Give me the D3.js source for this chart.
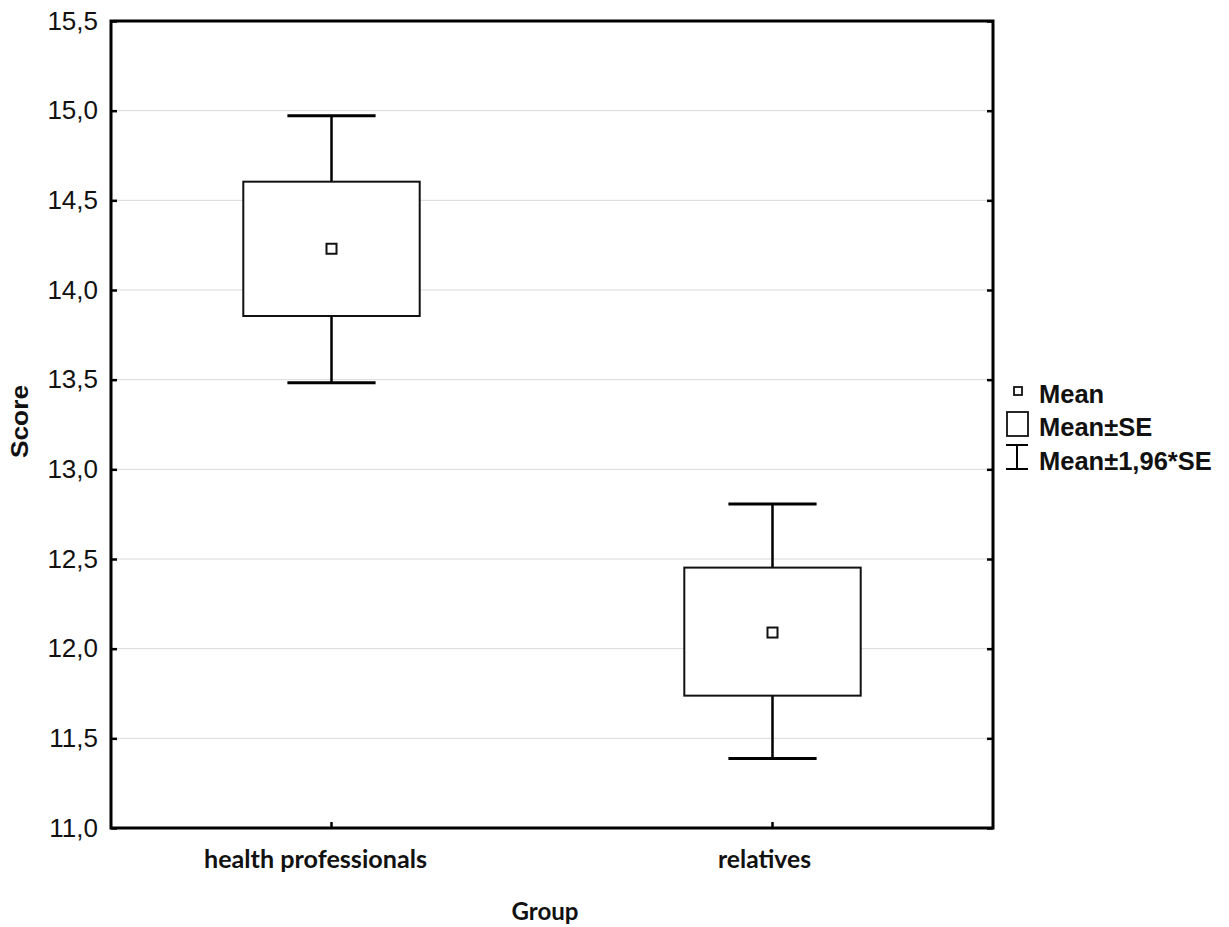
<!DOCTYPE html>
<html>
<head>
<meta charset="utf-8">
<script src="https://cdn.jsdelivr.net/npm/d3@7"></script>
<style>
  html, body { margin: 0; padding: 0; background: #fff; }
  svg { display: block; }
</style>
</head>
<body>
<svg id="chart" width="1229" height="927"></svg>
<script>
// ---- data ----
const categories = ["health professionals", "relatives"];
const means      = [14.23, 12.09];
const seLow      = [13.855, 11.738];
const seHigh     = [14.604, 12.452];
const ciLow      = [13.483, 11.387];
const ciHigh     = [14.972, 12.807];
const yTicks     = [11.0, 11.5, 12.0, 12.5, 13.0, 13.5, 14.0, 14.5, 15.0, 15.5];
const legendLabels = ["Mean", "Mean\u00B1SE", "Mean\u00B11,96*SE"];

// ---- layout ----
const svg = d3.select("#chart");
const L = 111, R = 993, T = 21, B = 828;

const x = d3.scaleBand().domain(categories).range([L, R]);
const y = d3.scaleLinear().domain([11.0, 15.5]).range([B, T]);
const fmt = v => d3.format(".1f")(v).replace(".", ",");

// gridlines
svg.append("g").selectAll("line")
  .data(yTicks.filter(v => v > 11.0 && v < 15.5))
  .join("line")
  .attr("x1", L).attr("x2", R)
  .attr("y1", d => y(d)).attr("y2", d => y(d))
  .attr("stroke", "#d9d9d9").attr("stroke-width", 1);

// left axis (inward ticks)
const yAxisL = svg.append("g").attr("transform", `translate(${L},0)`)
  .call(d3.axisLeft(y).tickValues(yTicks).tickSizeInner(-6).tickSizeOuter(0).tickFormat(fmt).tickPadding(13));
yAxisL.select(".domain").remove();
yAxisL.selectAll(".tick line").attr("stroke", "#000").attr("stroke-width", 2.5);
yAxisL.selectAll(".tick text")
  .attr("font-family", "'Liberation Sans', Arial, sans-serif")
  .attr("font-size", 26).attr("fill", "#111");

// right axis ticks
const yAxisR = svg.append("g").attr("transform", `translate(${R},0)`)
  .call(d3.axisRight(y).tickValues(yTicks).tickSizeInner(-6).tickSizeOuter(0).tickFormat(""));
yAxisR.select(".domain").remove();
yAxisR.selectAll(".tick line").attr("stroke", "#000").attr("stroke-width", 2.5);

// bottom axis ticks
const xAxis = svg.append("g").attr("transform", `translate(0,${B})`)
  .call(d3.axisBottom(x).tickSizeInner(-6).tickSizeOuter(0).tickFormat(""));
xAxis.select(".domain").remove();
xAxis.selectAll(".tick line").attr("stroke", "#000").attr("stroke-width", 2.5);

// frame
svg.append("rect")
  .attr("x", L).attr("y", T).attr("width", R - L).attr("height", B - T)
  .attr("fill", "none").attr("stroke", "#000").attr("stroke-width", 3);

// marks
const bw = x.bandwidth();
const boxW = bw * 0.4, capW = bw * 0.2;
const groups = svg.append("g").selectAll("g")
  .data(categories.map((c, i) => ({c, m: means[i], sl: seLow[i], sh: seHigh[i], cl: ciLow[i], ch: ciHigh[i]})))
  .join("g");
const cx = d => x(d.c) + bw / 2;

// whisker stems
groups.append("line")
  .attr("x1", cx).attr("x2", cx)
  .attr("y1", d => y(d.ch)).attr("y2", d => y(d.sh))
  .attr("stroke", "#000").attr("stroke-width", 2.5);
groups.append("line")
  .attr("x1", cx).attr("x2", cx)
  .attr("y1", d => y(d.sl)).attr("y2", d => y(d.cl))
  .attr("stroke", "#000").attr("stroke-width", 2.5);
// caps
groups.append("line")
  .attr("x1", d => cx(d) - capW / 2).attr("x2", d => cx(d) + capW / 2)
  .attr("y1", d => y(d.ch)).attr("y2", d => y(d.ch))
  .attr("stroke", "#000").attr("stroke-width", 3);
groups.append("line")
  .attr("x1", d => cx(d) - capW / 2).attr("x2", d => cx(d) + capW / 2)
  .attr("y1", d => y(d.cl)).attr("y2", d => y(d.cl))
  .attr("stroke", "#000").attr("stroke-width", 3);
// SE boxes
groups.append("rect")
  .attr("x", d => cx(d) - boxW / 2).attr("width", boxW)
  .attr("y", d => y(d.sh)).attr("height", d => y(d.sl) - y(d.sh))
  .attr("fill", "#fff").attr("stroke", "#111").attr("stroke-width", 2);
// mean markers
groups.append("rect")
  .attr("x", d => cx(d) - 5).attr("y", d => y(d.m) - 5)
  .attr("width", 10).attr("height", 10)
  .attr("fill", "#fff").attr("stroke", "#111").attr("stroke-width", 2);

// category labels
const catShift = [-16, -8];
svg.append("g").selectAll("text")
  .data(categories)
  .join("text")
  .attr("x", (d, i) => x(d) + bw / 2 + catShift[i])
  .attr("y", 868)
  .attr("text-anchor", "middle")
  .attr("font-family", "Lato, 'Open Sans', sans-serif")
  .attr("font-weight", "bold")
  .attr("font-size", 24)
  .attr("fill", "#111")
  .attr("textLength", (d, i) => [223, 93][i])
  .attr("lengthAdjust", "spacingAndGlyphs")
  .text(d => d);

// axis titles
svg.append("text")
  .attr("x", 545).attr("y", 920)
  .attr("text-anchor", "middle")
  .attr("font-family", "Lato, 'Open Sans', sans-serif")
  .attr("font-weight", "bold").attr("font-size", 24)
  .attr("fill", "#111")
  .attr("textLength", 67).attr("lengthAdjust", "spacingAndGlyphs")
  .text("Group");

svg.append("text")
  .attr("transform", "translate(28,421.5) rotate(-90)")
  .attr("text-anchor", "middle")
  .attr("font-family", "'Liberation Sans', Arial, sans-serif")
  .attr("font-weight", "bold").attr("font-size", 23)
  .attr("fill", "#111")
  .attr("textLength", 73).attr("lengthAdjust", "spacingAndGlyphs")
  .text("Score");

// legend
const lg = svg.append("g");
const lx = 1039;
const lBase = [403, 436, 470];
lg.selectAll("text")
  .data(legendLabels)
  .join("text")
  .attr("x", lx).attr("y", (d, i) => lBase[i])
  .attr("font-family", "'Liberation Sans', Arial, sans-serif")
  .attr("font-weight", "bold").attr("font-size", 25.5)
  .attr("fill", "#111")
  .text(d => d);
// mean icon
lg.append("rect").attr("x", 1014).attr("y", 387).attr("width", 8).attr("height", 8)
  .attr("fill", "#fff").attr("stroke", "#111").attr("stroke-width", 1.8);
// SE box icon
lg.append("rect").attr("x", 1007).attr("y", 412).attr("width", 21).attr("height", 24)
  .attr("fill", "#fff").attr("stroke", "#111").attr("stroke-width", 1.8);
// whisker icon
lg.append("line").attr("x1", 1006).attr("x2", 1028).attr("y1", 445).attr("y2", 445)
  .attr("stroke", "#000").attr("stroke-width", 2);
lg.append("line").attr("x1", 1017).attr("x2", 1017).attr("y1", 445).attr("y2", 469)
  .attr("stroke", "#000").attr("stroke-width", 2);
lg.append("line").attr("x1", 1006).attr("x2", 1028).attr("y1", 469).attr("y2", 469)
  .attr("stroke", "#000").attr("stroke-width", 2);
</script>
</body>
</html>
